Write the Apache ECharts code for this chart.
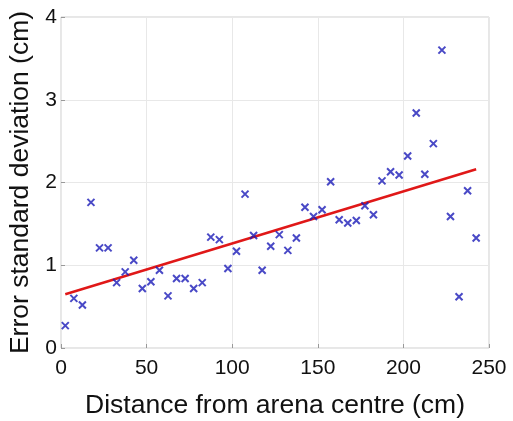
<!DOCTYPE html>
<html>
<head>
<meta charset="utf-8">
<script src="https://cdn.jsdelivr.net/npm/echarts@6/dist/echarts.min.js"></script>
<style>
  html, body { margin: 0; padding: 0; background: #fff; }
  #chart { width: 513px; height: 421px; }
</style>
</head>
<body>
<div id="chart"></div>
<script>
// bin centres (cm) and measured error standard deviation (cm)
var distance = [2.5, 7.5, 12.5, 17.5, 22.5, 27.5, 32.5, 37.5, 42.5, 47.5,
  52.5, 57.5, 62.5, 67.5, 72.5, 77.5, 82.5, 87.5, 92.5, 97.5,
  102.5, 107.5, 112.5, 117.5, 122.5, 127.5, 132.5, 137.5, 142.5, 147.5,
  152.5, 157.5, 162.5, 167.5, 172.5, 177.5, 182.5, 187.5, 192.5, 197.5,
  202.5, 207.5, 212.5, 217.5, 222.5, 227.5, 232.5, 237.5, 242.5]
var errorSd = [0.27, 0.60, 0.52, 1.76, 1.21, 1.21, 0.79, 0.92, 1.06, 0.72,
  0.80, 0.94, 0.63, 0.84, 0.84, 0.72, 0.79, 1.34, 1.31, 0.96,
  1.17, 1.86, 1.36, 0.94, 1.23, 1.37, 1.18, 1.33, 1.70, 1.59,
  1.67, 2.01, 1.55, 1.51, 1.54, 1.72, 1.61, 2.02, 2.13, 2.09,
  2.32, 2.84, 2.10, 2.47, 3.60, 1.59, 0.62, 1.90, 1.33]
// linear fit end points
var fitX = [2.5, 242.5]
var fitY = [0.65, 2.16]

var xTicks = [0, 50, 100, 150, 200, 250]
var yTicks = [0, 1, 2, 3, 4]

var points = distance.map(function (d, i) { return [d, errorSd[i]] })
var fitLine = fitX.map(function (d, i) { return [d, fitY[i]] })

var myChart = echarts.init(document.getElementById('chart'))
var axisFont = 'Liberation Sans, Arial, sans-serif'

myChart.setOption({
  animation: false,
  grid: {
    left: 61,
    right: 24,
    top: 17,
    bottom: 73,
    outerBoundsMode: 'none',
    show: true,
    borderColor: '#cfcfcf',
    borderWidth: 1
  },
  xAxis: {
    type: 'value',
    min: xTicks[0],
    max: xTicks[xTicks.length - 1],
    interval: 50,
    name: 'Distance from arena centre (cm)',
    nameLocation: 'middle',
    nameGap: 44,
    nameTextStyle: { color: '#111', fontSize: 26.5, fontFamily: axisFont },
    axisLine: { show: false },
    axisTick: { show: true, inside: true, length: 4, lineStyle: { color: '#999' } },
    splitLine: { show: true, lineStyle: { color: '#e8e8e8' } },
    axisLabel: { color: '#111', fontSize: 21, fontFamily: axisFont, margin: 10 }
  },
  yAxis: {
    type: 'value',
    min: yTicks[0],
    max: yTicks[yTicks.length - 1],
    interval: 1,
    name: 'Error standard deviation (cm)',
    nameLocation: 'middle',
    nameGap: 23,
    nameTextStyle: { color: '#111', fontSize: 26.5, fontFamily: axisFont },
    axisLine: { show: false },
    axisTick: { show: true, inside: true, length: 4, lineStyle: { color: '#999' } },
    splitLine: { show: true, lineStyle: { color: '#e8e8e8' } },
    axisLabel: { color: '#111', fontSize: 21, fontFamily: axisFont, margin: 4 }
  },
  series: [
    {
      type: 'scatter',
      data: points,
      symbol: 'path://M0,0L10,10M10,0L0,10',
      symbolSize: 7,
      itemStyle: { color: 'none', borderColor: '#1c1cb8', borderWidth: 2 },
      z: 3
    },
    {
      type: 'line',
      data: fitLine,
      symbol: 'none',
      lineStyle: { color: '#e01818', width: 2.5 },
      z: 2
    }
  ]
})
</script>
</body>
</html>
